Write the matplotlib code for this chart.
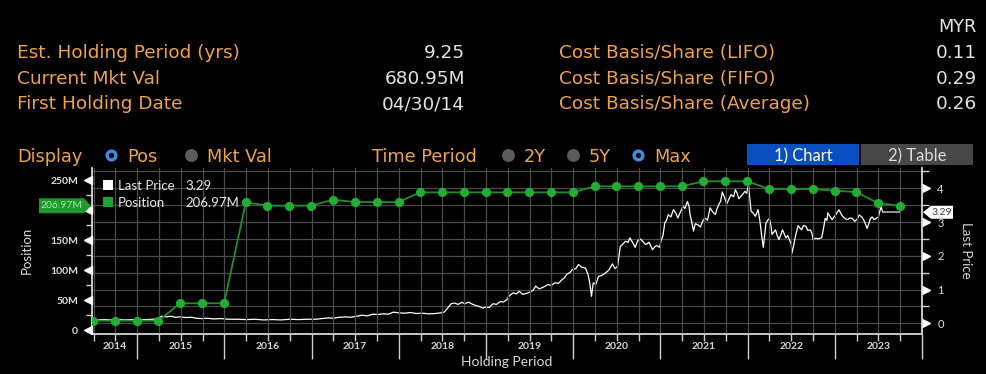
import matplotlib
matplotlib.use('Agg')
import matplotlib.pyplot as plt
import numpy as np
import pandas as pd
from matplotlib.lines import Line2D
from matplotlib.patches import Rectangle, Polygon
from matplotlib.transforms import blended_transform_factory

plt.rcParams['font.family'] = ['Lato', 'DejaVu Sans']

# ---------------- data ----------------
header_labels_left = ['Est. Holding Period (yrs)', 'Current Mkt Val', 'First Holding Date']
header_values_left = ['9.25', '680.95M', '04/30/14']
header_labels_right = ['Cost Basis/Share (LIFO)', 'Cost Basis/Share (FIFO)', 'Cost Basis/Share (Average)']
header_values_right = ['0.11', '0.29', '0.26']
currency = 'MYR'

pos_dates = ['2014-06-30', '2014-09-30', '2014-12-31', '2015-03-31', '2015-06-30', '2015-09-30',
             '2015-12-31', '2016-03-31', '2016-06-30', '2016-09-30', '2016-12-31', '2017-03-31',
             '2017-06-30', '2017-09-30', '2017-12-31', '2018-03-31', '2018-06-30', '2018-09-30',
             '2018-12-31', '2019-03-31', '2019-06-30', '2019-09-30', '2019-12-31', '2020-03-31',
             '2020-06-30', '2020-09-30', '2020-12-31', '2021-03-31', '2021-06-30', '2021-09-30',
             '2021-12-31', '2022-03-31', '2022-06-30', '2022-09-30', '2022-12-31', '2023-03-31',
             '2023-06-30', '2023-09-30']
pos_values = [15.5, 15.5, 15.5, 15.5, 44.5, 44.5, 44.5, 212.8, 207.2, 207.2, 207.2, 217.2,
              213.3, 213.3, 213.3, 229.4, 229.4, 229.4, 229.4, 229.4, 229.4, 229.4, 229.4, 239.4,
              239.4, 239.4, 239.4, 239.4, 247.8, 247.8, 247.8, 235.0, 235.0, 235.0, 232.2, 230.0,
              211.7, 206.97]

price_t = [2014.48, 2014.55, 2014.62, 2014.70, 2014.78, 2014.86, 2014.94, 2015.02, 2015.10, 2015.18,
           2015.24, 2015.28, 2015.33, 2015.38, 2015.44, 2015.50, 2015.56, 2015.62, 2015.68, 2015.74,
           2015.80, 2015.88, 2015.96, 2016.05, 2016.15, 2016.25, 2016.35, 2016.45, 2016.55, 2016.65,
           2016.75, 2016.85, 2016.95,
           2017.05, 2017.12, 2017.19, 2017.25, 2017.32, 2017.39, 2017.45, 2017.52, 2017.58, 2017.64,
           2017.70, 2017.76, 2017.82, 2017.88, 2017.94, 2018.00, 2018.07, 2018.13, 2018.20, 2018.27,
           2018.34, 2018.42, 2018.48, 2018.52, 2018.56, 2018.60, 2018.64, 2018.68, 2018.72, 2018.76,
           2018.80, 2018.84, 2018.88, 2018.92, 2018.96, 2019.00, 2019.04, 2019.08, 2019.12, 2019.16,
           2019.20, 2019.24, 2019.27, 2019.31, 2019.35, 2019.38, 2019.42, 2019.46, 2019.50, 2019.54,
           2019.57, 2019.61, 2019.64, 2019.68, 2019.71, 2019.75, 2019.79, 2019.83, 2019.87, 2019.90,
           2019.93, 2019.96, 2019.99, 2020.03, 2020.06, 2020.10, 2020.14, 2020.17, 2020.19, 2020.21,
           2020.23, 2020.26, 2020.29, 2020.33, 2020.37, 2020.41, 2020.45, 2020.48, 2020.51, 2020.54,
           2020.57, 2020.60, 2020.63, 2020.65, 2020.68, 2020.71, 2020.74, 2020.77, 2020.80, 2020.83,
           2020.87, 2020.91, 2020.94, 2020.96, 2020.99, 2021.01, 2021.03, 2021.05, 2021.07, 2021.09,
           2021.12, 2021.15, 2021.18, 2021.20, 2021.23, 2021.26, 2021.28, 2021.31, 2021.33, 2021.34,
           2021.36, 2021.38, 2021.40, 2021.43, 2021.46, 2021.48, 2021.51, 2021.54, 2021.57, 2021.60,
           2021.63, 2021.65, 2021.67, 2021.69, 2021.71, 2021.74, 2021.76, 2021.78, 2021.81, 2021.84,
           2021.86, 2021.88, 2021.90, 2021.92, 2021.94, 2021.97, 2021.99, 2022.01, 2022.03, 2022.04,
           2022.07, 2022.09, 2022.11, 2022.12, 2022.14, 2022.16, 2022.18, 2022.20, 2022.21, 2022.23,
           2022.25, 2022.27, 2022.28, 2022.30, 2022.32, 2022.34, 2022.36, 2022.38, 2022.40, 2022.42,
           2022.44, 2022.46, 2022.48, 2022.50, 2022.51, 2022.53, 2022.55, 2022.58, 2022.60, 2022.62,
           2022.64, 2022.67, 2022.69, 2022.72, 2022.74, 2022.75, 2022.78, 2022.81, 2022.85, 2022.87,
           2022.89, 2022.91, 2022.92, 2022.95, 2022.97, 2022.99, 2023.01, 2023.03, 2023.05, 2023.07,
           2023.09, 2023.12, 2023.15, 2023.17, 2023.20, 2023.23, 2023.26, 2023.28, 2023.31, 2023.33,
           2023.35, 2023.37, 2023.39, 2023.41, 2023.43, 2023.45, 2023.48, 2023.50, 2023.53, 2023.55]
price_v = [0.11, 0.10, 0.11, 0.10, 0.11, 0.10, 0.11, 0.10, 0.11, 0.12,
           0.14, 0.21, 0.19, 0.21, 0.18, 0.19, 0.17, 0.18, 0.15, 0.14,
           0.15, 0.13, 0.14, 0.12, 0.12, 0.11, 0.12, 0.10, 0.11, 0.10,
           0.12, 0.11, 0.12,
           0.12, 0.14, 0.16, 0.15, 0.18, 0.19, 0.18, 0.21, 0.24, 0.22,
           0.27, 0.26, 0.28, 0.27, 0.33, 0.31, 0.30, 0.32, 0.29, 0.30,
           0.28, 0.29, 0.31, 0.33, 0.45, 0.58, 0.60, 0.56, 0.62, 0.58,
           0.63, 0.57, 0.53, 0.50, 0.45, 0.48, 0.47, 0.58, 0.56, 0.64,
           0.63, 0.70, 0.82, 0.90, 0.87, 0.95, 0.86, 0.88, 0.92, 0.98,
           1.10, 1.02, 1.05, 1.10, 1.15, 1.12, 1.20, 1.18, 1.29, 1.35,
           1.46, 1.50, 1.59, 1.62, 1.74, 1.66, 1.64, 1.45, 1.20, 0.80,
           1.20, 1.15, 1.39, 1.42, 1.49, 1.58, 1.76, 1.62, 1.70, 2.28,
           2.35, 2.43, 2.40, 2.53, 2.40, 2.25, 2.45, 2.50, 2.42, 2.33,
           2.40, 2.18, 2.28, 2.30, 2.25, 2.47, 2.60, 2.97, 3.05, 3.22,
           3.15, 3.37, 3.25, 3.12, 3.30, 3.47, 3.40, 3.61, 3.45, 3.22,
           3.00, 2.73, 2.95, 2.92, 2.85, 3.00, 3.12, 3.05, 3.42, 3.30,
           3.22, 3.40, 3.52, 3.61, 3.89, 3.70, 3.53, 3.65, 3.81, 3.75,
           3.96, 3.85, 3.69, 3.75, 3.81, 3.91, 3.85, 4.11, 3.60, 3.32,
           3.25, 3.17, 3.30, 3.37, 3.05, 2.63, 2.25, 2.70, 2.96, 3.05,
           3.11, 2.85, 2.63, 2.70, 2.77, 2.60, 2.48, 2.62, 2.77, 2.65,
           2.53, 2.60, 2.48, 2.35, 2.08, 2.33, 2.60, 2.90, 2.82, 2.77,
           2.90, 2.87, 2.75, 2.77, 2.65, 2.48, 2.52, 2.50, 2.54, 2.80,
           3.11, 3.05, 3.27, 3.15, 3.07, 3.15, 3.21, 3.30, 3.36, 3.25,
           3.17, 3.10, 3.07, 3.12, 3.11, 3.02, 3.10, 3.21, 3.15, 3.07,
           2.95, 2.81, 2.95, 3.11, 3.15, 3.07, 3.12, 3.15, 3.46, 3.29]
last_price = 3.29
last_position = 206.97

year_labels = ['2014', '2015', '2016', '2017', '2018', '2019', '2020', '2021', '2022', '2023']
pos_ticks = [0, 50, 100, 150, 200, 250]
pos_ticklabels = ['0', '50M', '100M', '150M', '200M', '250M']
price_ticks = [0, 1, 2, 3, 4]
price_ticklabels = ['0', '1', '2', '3', '4']

# ---------------- styling ----------------
W, H = 986, 374
ORANGE = '#f0a346'
VAL = '#e2e2e2'
GRID = '#4a4a4a'
AXC = '#cfcfcf'
GREEN_LINE = '#1f8f2d'
GREEN_DOT = '#22ad33'
HEAD_FONT = ['DejaVu Sans']


def F(x, y):
    """pixel coords (top-left origin) -> figure fraction"""
    return x / W, 1 - y / H


fig = plt.figure(figsize=(W / 100, H / 100), dpi=100, facecolor='black')

# ---------------- header ----------------
hs = 13.3
for i, (lab, val) in enumerate(zip(header_labels_left, header_values_left)):
    yb = 58.3 + i * 25.5
    fig.text(*F(17, yb), lab, color=ORANGE, fontsize=hs, va='baseline', ha='left', family=HEAD_FONT)
    fig.text(*F(465, yb), val, color=VAL, fontsize=hs, va='baseline', ha='right', family=HEAD_FONT)
for i, (lab, val) in enumerate(zip(header_labels_right, header_values_right)):
    yb = 58.3 + i * 25.5
    fig.text(*F(559, yb), lab, color=ORANGE, fontsize=hs, va='baseline', ha='left', family=HEAD_FONT)
    fig.text(*F(977, yb), val, color=VAL, fontsize=hs, va='baseline', ha='right', family=HEAD_FONT)
fig.text(*F(977, 32.3), currency, color=VAL, fontsize=12.8, va='baseline', ha='right', family=HEAD_FONT)

# controls row
cs = 12.8
yb = 161.7
fig.text(*F(17, yb), 'Display', color=ORANGE, fontsize=cs, va='baseline', family=HEAD_FONT)
fig.text(*F(372, yb), 'Time Period', color=ORANGE, fontsize=cs, va='baseline', family=HEAD_FONT)


def radio(x, y, on):
    if on:
        m = Line2D([x / W], [1 - y / H], marker='o', ms=6.3, mfc='black', mec='#3b8fea',
                   mew=2.4, transform=fig.transFigure)
    else:
        m = Line2D([x / W], [1 - y / H], marker='o', ms=9.3, mfc='#5b5b5b', mec='#5b5b5b',
                   mew=0, transform=fig.transFigure)
    fig.add_artist(m)


radio_items = [(111, 'Pos', True), (191, 'Mkt Val', False), (508, '2Y', False),
               (573, '5Y', False), (638, 'Max', True)]
for x, lab, on in radio_items:
    radio(x, 155, on)
    fig.text(*F(x + 16, yb), lab, color=ORANGE, fontsize=cs, va='baseline', family=HEAD_FONT)

# buttons
fig.add_artist(Rectangle((747 / W, 1 - 165 / H), 112 / W, 21.5 / H, facecolor='#0a4fc2',
                         edgecolor='none', transform=fig.transFigure))
fig.add_artist(Rectangle((861 / W, 1 - 165 / H), 112 / W, 21.5 / H, facecolor='#474747',
                         edgecolor='none', transform=fig.transFigure))
fig.text(*F(803, 161.5), '1) Chart', color='white', fontsize=12, va='baseline', ha='center')
fig.text(*F(917, 161.5), '2) Table', color='#dcdcdc', fontsize=12, va='baseline', ha='center')

# ---------------- chart ----------------
x0, x1, y0, y1 = 92, 922, 168, 333.5
ax = fig.add_axes([x0 / W, 1 - y1 / H, (x1 - x0) / W, (y1 - y0) / H])
ax2 = ax.twinx()
ax.set_zorder(ax2.get_zorder() + 1)
ax.patch.set_visible(False)
ax2.patch.set_visible(False)

xmin, xmax = 2014.482, 2024.0
ax.set_xlim(xmin, xmax)
ax.set_ylim(-5.83, 270)
ax2.set_ylim(-0.302, 4.601)


def dec_year(s):
    d = pd.Timestamp(s)
    n = 366 if d.is_leap_year else 365
    return d.year + (d.dayofyear - 1) / n


pos_x = [dec_year(s) for s in pos_dates]

# price (right axis)
ax2.plot(price_t, price_v, color='white', lw=0.9, zorder=3)
ax2.plot([price_t[-1], pos_x[-1]], [last_price, last_price], color='#a0a0a0', lw=1.3, zorder=3)

# position (left axis)
ax.plot(pos_x, pos_values, color=GREEN_LINE, lw=1.3, zorder=4)
ax.plot(pos_x, pos_values, ls='none', marker='o', ms=5.6, mfc=GREEN_DOT, mec=GREEN_DOT, zorder=5)

# x ticks / grid
year_bounds = np.arange(2015, 2025)
quarter_bounds = np.arange(2014.5, 2024.0, 0.25)
ax.set_xticks(year_bounds)
ax.set_xticks(quarter_bounds, minor=True)
ax.tick_params(axis='x', which='major', length=18, width=1, color=AXC, labelbottom=False)
ax.tick_params(axis='x', which='minor', length=5, width=1, color=AXC)
ax.grid(which='both', axis='x', color=GRID, lw=0.9)
ax2.set_yticks(price_ticks)
ax2.set_yticks(np.arange(0.5, 4.6, 1.0), minor=True)
ax2.grid(which='both', axis='y', color=GRID, lw=0.9)

# left y axis
ax.set_yticks(pos_ticks)
ax.set_yticklabels(pos_ticklabels)
ax.set_yticks(np.arange(25, 270, 50), minor=True)
ax.tick_params(axis='y', which='major', length=0, pad=10, labelcolor='#e0e0e0', labelsize=7.5)
ax.tick_params(axis='y', which='minor', length=4, width=1, color=AXC)
for tv, lab in zip(pos_ticks, ax.get_yticklabels()):
    lab.set_fontweight('bold')
    if abs(tv - last_position) < 20:
        lab.set_visible(False)  # hidden behind the value flag in the reference

# right y axis
ax2.set_yticklabels(price_ticklabels)
ax2.tick_params(axis='y', which='major', length=0, pad=11, labelcolor='#e0e0e0', labelsize=8)
ax2.tick_params(axis='y', which='minor', length=5, width=1, color=AXC)
ax2.tick_params(axis='x', which='both', length=0)

for a in (ax, ax2):
    a.spines['top'].set_visible(False)
    for s in ('left', 'right', 'bottom'):
        a.spines[s].set_color(AXC)
        a.spines[s].set_linewidth(1.1)

# triangle tick markers
tl = blended_transform_factory(ax.transAxes, ax.transData)
ax.plot([-4.5 / (x1 - x0)] * len(pos_ticks), pos_ticks, ls='none', marker='<', ms=5.5,
        color='white', transform=tl, clip_on=False, zorder=6)
tr = blended_transform_factory(ax2.transAxes, ax2.transData)
ax2.plot([1 + 4.5 / (x1 - x0)] * len(price_ticks), price_ticks, ls='none', marker='>', ms=5.5,
         color='white', transform=tr, clip_on=False, zorder=6)

# year labels
lb = blended_transform_factory(ax.transData, fig.transFigure)
for i, lab in enumerate(year_labels):
    a_ = max(int(lab), xmin)
    b_ = min(int(lab) + 1, xmax)
    ax.text((a_ + b_) / 2, 1 - 349.3 / H, lab, transform=lb, ha='center', va='baseline',
            color='#d8d8d8', fontsize=7.5, fontweight='bold')

fig.text(*F(507, 366), 'Holding Period', color='#d8d8d8', fontsize=10, ha='center', va='baseline')
fig.text(*F(27, 250.5), 'Position', color='#d8d8d8', fontsize=9.5, ha='center', va='center',
         rotation=90)
fig.text(*F(966, 250.5), 'Last Price', color='#d8d8d8', fontsize=9.5, ha='center', va='center',
         rotation=270)

# legend
lg = [(184.7, 'white', 'Last Price', f'{last_price:.2f}'),
      (202.3, '#1ea22e', 'Position', f'{last_position:.2f}M')]
for yc, c, name, val in lg:
    fig.add_artist(Rectangle((103.3 / W, 1 - (yc + 5) / H), 10 / W, 10 / H, facecolor=c,
                             edgecolor='none', transform=fig.transFigure))
    fig.text(*F(118, yc + 5), name, color='#e8e8e8', fontsize=9.5, va='baseline')
    fig.text(*F(185, yc + 5), val, color='#e8e8e8', fontsize=9.5, va='baseline')

# value flags
fig.canvas.draw()
yl = H - ax.transData.transform((0, last_position))[1]
yr = H - ax2.transData.transform((0, last_price))[1]
left_flag = [(39, yl - 7.5), (84, yl - 7.5), (91, yl), (84, yl + 7.5), (39, yl + 7.5)]
fig.add_artist(Polygon([F(x, y) for x, y in left_flag], closed=True, facecolor='#1c9a2c',
                       edgecolor='none', transform=fig.transFigure, zorder=10))
fig.text(*F(61.5, yl), f'{last_position:.2f}M', color='#a8e2a8', fontsize=7.5, ha='center',
         va='center', zorder=11)
right_flag = [(923, yr), (931, yr - 6.5), (953, yr - 6.5), (953, yr + 6.5), (931, yr + 6.5)]
fig.add_artist(Polygon([F(x, y) for x, y in right_flag], closed=True, facecolor='white',
                       edgecolor='none', transform=fig.transFigure, zorder=10))
fig.text(*F(942, yr), f'{last_price:.2f}', color='#404040', fontsize=7.5, ha='center',
         va='center', zorder=11)

fig.savefig('out.png', dpi=100, facecolor='black')
